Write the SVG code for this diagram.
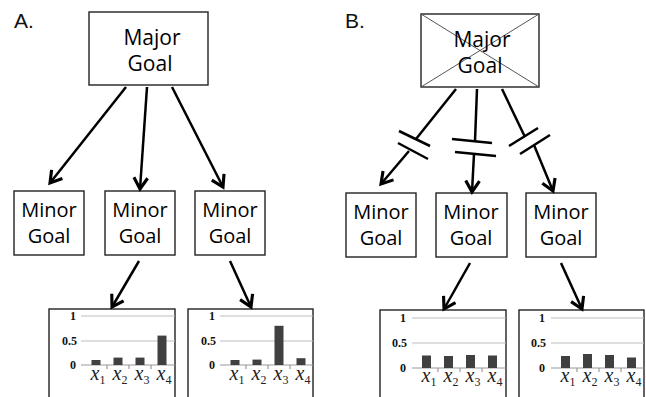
<svg xmlns="http://www.w3.org/2000/svg" width="646" height="397" viewBox="0 0 646 397">
<defs>
<marker id="ah" markerUnits="userSpaceOnUse" markerWidth="20" markerHeight="20" refX="0" refY="0" viewBox="-12 -8 14 16" orient="auto">
<path d="M-9,-5.5 L0,0 L-9,5.5" fill="none" stroke="#000" stroke-width="2.5" stroke-linejoin="miter"/>
</marker>
</defs>
<style>
.box{fill:#fff;stroke:#222;stroke-width:1.4}
.lbl{font-family:"Open Sans","Noto Sans",sans-serif;font-size:20px;fill:#000;text-anchor:middle}
.big{font-size:21px}
.panel{font-family:"Liberation Sans",Arial,sans-serif;font-size:21px;fill:#111}
.con{fill:none;stroke:#000;stroke-width:2.5}
.brk{fill:none;stroke:#000;stroke-width:2.5}
.x{fill:none;stroke:#555;stroke-width:1}
.grid{stroke:#bdbdbd;stroke-width:1}
.axis{stroke:#999;stroke-width:1.2}
.bar{fill:#404040}
.yl{font-family:"Liberation Serif",serif;font-weight:bold;font-size:12px;fill:#111;text-anchor:end}
.xl{font-family:"Liberation Serif",serif;font-style:italic;font-size:20px;fill:#222;text-anchor:middle}
.sub{font-size:12px;font-style:normal}
</style>
<rect width="646" height="397" fill="#fff"/>

<text class="panel" x="14" y="28">A.</text>
<text class="panel" x="345" y="28">B.</text>

<g id="majorA">
<rect class="box" x="89" y="12" width="119" height="73"/>
<text class="lbl big" x="152" y="45">Major</text>
<text class="lbl big" x="150" y="71">Goal</text>
</g>
<g id="majorB">
<rect class="box" x="421" y="14" width="118" height="73"/>
<line class="x" x1="421" y1="14" x2="539" y2="87"/>
<line class="x" x1="539" y1="14" x2="421" y2="87"/>
<text class="lbl big" x="482" y="47">Major</text>
<text class="lbl big" x="480" y="73">Goal</text>
</g>

<g id="minorA1"><rect class="box" x="14" y="191" width="70" height="64"/><text class="lbl" x="49" y="217">Minor</text><text class="lbl" x="49" y="243">Goal</text></g>
<g id="minorA2"><rect class="box" x="105" y="191" width="70" height="64"/><text class="lbl" x="140" y="217">Minor</text><text class="lbl" x="140" y="243">Goal</text></g>
<g id="minorA3"><rect class="box" x="195" y="191" width="70" height="64"/><text class="lbl" x="230" y="217">Minor</text><text class="lbl" x="230" y="243">Goal</text></g>
<g id="minorB1"><rect class="box" x="346" y="193" width="70" height="64"/><text class="lbl" x="381" y="219">Minor</text><text class="lbl" x="381" y="245">Goal</text></g>
<g id="minorB2"><rect class="box" x="436" y="193" width="71" height="64"/><text class="lbl" x="471" y="219">Minor</text><text class="lbl" x="471" y="245">Goal</text></g>
<g id="minorB3"><rect class="box" x="526" y="193" width="70" height="64"/><text class="lbl" x="561" y="219">Minor</text><text class="lbl" x="561" y="245">Goal</text></g>

<g id="chartA1" transform="translate(49,309)">
<rect class="box" x="0" y="0" width="126" height="95"/>
<line class="grid" x1="32" y1="7" x2="126" y2="7"/>
<line class="grid" x1="32" y1="32" x2="126" y2="32"/>
<line class="axis" x1="32" y1="56" x2="126" y2="56"/>
<line class="axis" x1="58" y1="56" x2="58" y2="60"/><line class="axis" x1="80" y1="56" x2="80" y2="60"/><line class="axis" x1="102" y1="56" x2="102" y2="60"/>
<text class="yl" x="27" y="11">1</text><text class="yl" x="28" y="36">0.5</text><text class="yl" x="27" y="60">0</text>
<rect class="bar" x="42.5" y="51" width="9" height="5"/>
<rect class="bar" x="64.5" y="48.6" width="9" height="7.4"/>
<rect class="bar" x="86.5" y="48.6" width="9" height="7.4"/>
<rect class="bar" x="108.5" y="26.6" width="9" height="29.4"/>
<text class="xl" x="49" y="71">x<tspan class="sub" dy="4">1</tspan></text>
<text class="xl" x="71" y="71">x<tspan class="sub" dy="4">2</tspan></text>
<text class="xl" x="93" y="71">x<tspan class="sub" dy="4">3</tspan></text>
<text class="xl" x="115" y="71">x<tspan class="sub" dy="4">4</tspan></text>
</g>
<g id="chartA2" transform="translate(188,309)">
<rect class="box" x="0" y="0" width="125" height="95"/>
<line class="grid" x1="32" y1="7" x2="125" y2="7"/>
<line class="grid" x1="32" y1="32" x2="125" y2="32"/>
<line class="axis" x1="32" y1="56" x2="125" y2="56"/>
<line class="axis" x1="58" y1="56" x2="58" y2="60"/><line class="axis" x1="80" y1="56" x2="80" y2="60"/><line class="axis" x1="102" y1="56" x2="102" y2="60"/>
<text class="yl" x="27" y="11">1</text><text class="yl" x="28" y="36">0.5</text><text class="yl" x="27" y="60">0</text>
<rect class="bar" x="42.5" y="51" width="9" height="5"/>
<rect class="bar" x="64.5" y="50.6" width="9" height="5.4"/>
<rect class="bar" x="86.5" y="16.8" width="9" height="39.2"/>
<rect class="bar" x="108.5" y="49.2" width="9" height="6.8"/>
<text class="xl" x="49" y="71">x<tspan class="sub" dy="4">1</tspan></text>
<text class="xl" x="71" y="71">x<tspan class="sub" dy="4">2</tspan></text>
<text class="xl" x="93" y="71">x<tspan class="sub" dy="4">3</tspan></text>
<text class="xl" x="115" y="71">x<tspan class="sub" dy="4">4</tspan></text>
</g>
<g id="chartB1" transform="translate(380,311)">
<rect class="box" x="0" y="-1" width="126" height="95"/>
<line class="grid" x1="32" y1="7" x2="126" y2="7"/>
<line class="grid" x1="32" y1="32" x2="126" y2="32"/>
<line class="axis" x1="32" y1="57" x2="126" y2="57"/>
<line class="axis" x1="58" y1="57" x2="58" y2="61"/><line class="axis" x1="80" y1="57" x2="80" y2="61"/><line class="axis" x1="102" y1="57" x2="102" y2="61"/>
<text class="yl" x="26" y="11">1</text><text class="yl" x="27" y="36">0.5</text><text class="yl" x="26" y="61">0</text>
<rect class="bar" x="42" y="44.5" width="9" height="12.5"/>
<rect class="bar" x="64" y="45" width="9" height="12"/>
<rect class="bar" x="86" y="44" width="9" height="13"/>
<rect class="bar" x="108" y="44.5" width="9" height="12.5"/>
<text class="xl" x="49" y="71">x<tspan class="sub" dy="4">1</tspan></text>
<text class="xl" x="71" y="71">x<tspan class="sub" dy="4">2</tspan></text>
<text class="xl" x="93" y="71">x<tspan class="sub" dy="4">3</tspan></text>
<text class="xl" x="115" y="71">x<tspan class="sub" dy="4">4</tspan></text>
</g>
<g id="chartB2" transform="translate(519,311)">
<rect class="box" x="0" y="-1" width="125" height="95"/>
<line class="grid" x1="32" y1="7" x2="125" y2="7"/>
<line class="grid" x1="32" y1="32" x2="125" y2="32"/>
<line class="axis" x1="32" y1="57" x2="125" y2="57"/>
<line class="axis" x1="58" y1="57" x2="58" y2="61"/><line class="axis" x1="80" y1="57" x2="80" y2="61"/><line class="axis" x1="102" y1="57" x2="102" y2="61"/>
<text class="yl" x="26" y="11">1</text><text class="yl" x="27" y="36">0.5</text><text class="yl" x="26" y="61">0</text>
<rect class="bar" x="42" y="45" width="9" height="12"/>
<rect class="bar" x="64" y="43" width="9" height="14"/>
<rect class="bar" x="86" y="44" width="9" height="13"/>
<rect class="bar" x="108" y="46.5" width="9" height="10.5"/>
<text class="xl" x="49" y="71">x<tspan class="sub" dy="4">1</tspan></text>
<text class="xl" x="71" y="71">x<tspan class="sub" dy="4">2</tspan></text>
<text class="xl" x="93" y="71">x<tspan class="sub" dy="4">3</tspan></text>
<text class="xl" x="115" y="71">x<tspan class="sub" dy="4">4</tspan></text>
</g>

<g id="connectors">
<line class="con" x1="126" y1="87" x2="50" y2="183" marker-end="url(#ah)"/>
<line class="con" x1="147" y1="87" x2="140" y2="189" marker-end="url(#ah)"/>
<line class="con" x1="172" y1="87" x2="223" y2="187" marker-end="url(#ah)"/>
<line class="con" x1="139" y1="261" x2="112" y2="307" marker-end="url(#ah)"/>
<line class="con" x1="230" y1="261" x2="251" y2="307" marker-end="url(#ah)"/>
<line class="con" x1="470" y1="263" x2="444" y2="309" marker-end="url(#ah)"/>
<line class="con" x1="561" y1="263" x2="582" y2="309" marker-end="url(#ah)"/>

<line class="con" x1="456" y1="89" x2="416" y2="139"/>
<line class="brk" x1="399" y1="131" x2="430" y2="146"/>
<line class="brk" x1="398" y1="143" x2="428" y2="159"/>
<line class="con" x1="409" y1="151" x2="381" y2="184" marker-end="url(#ah)"/>

<line class="con" x1="477" y1="89" x2="475" y2="141"/>
<line class="brk" x1="452" y1="139" x2="492" y2="143"/>
<line class="brk" x1="455" y1="152" x2="496" y2="156"/>
<line class="con" x1="474" y1="154" x2="472" y2="192" marker-end="url(#ah)"/>

<line class="con" x1="502" y1="89" x2="525" y2="137"/>
<line class="brk" x1="509" y1="146" x2="538" y2="128"/>
<line class="brk" x1="520" y1="154" x2="550" y2="135"/>
<line class="con" x1="534" y1="145" x2="553" y2="191" marker-end="url(#ah)"/>
</g>
</svg>
